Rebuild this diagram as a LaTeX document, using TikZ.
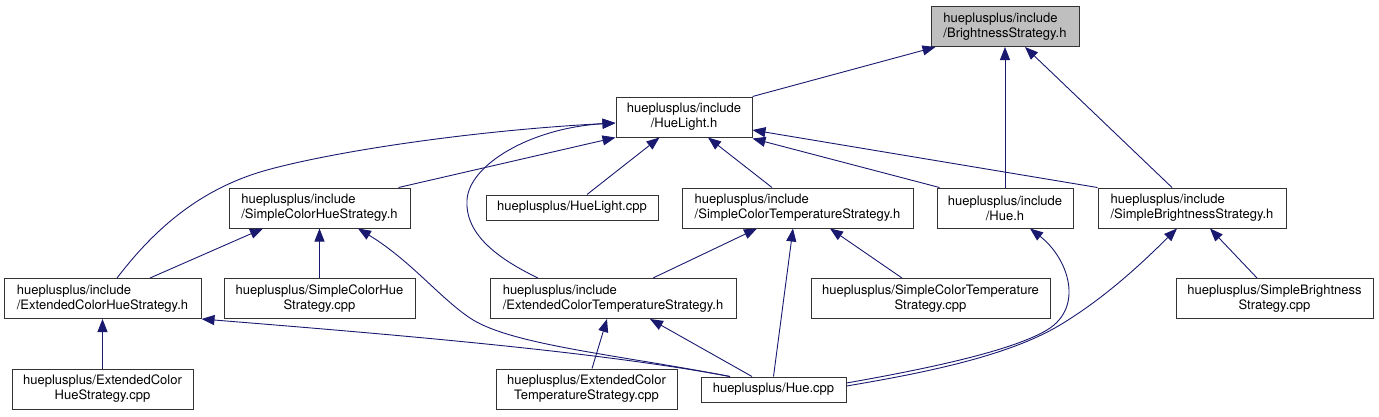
\documentclass[tikz,border=0pt]{standalone}
\usepackage{fontspec}
\setmainfont{TeX Gyre Heros}
\usetikzlibrary{arrows.meta}
\definecolor{edgec}{HTML}{191970}
\definecolor{rootfill}{HTML}{BFBFBF}
\begin{document}
\begin{tikzpicture}[x=1pt,y=-1pt,
  box/.style={draw=black!80, line width=1pt, fill=white, inner sep=0pt,
    minimum height=40pt, font=\fontsize{13}{15}\selectfont},
  onel/.style={minimum height=25pt},
  edge/.style={draw=edgec, line width=0.9pt, -{Triangle[length=13pt,width=10pt]}},
]
\useasboundingbox (0,0) rectangle (1379,416);
% nodes
\node[box, align=left, minimum width=148pt, fill=rootfill] (BS) at (1005,26.5) {hueplusplus/include\\/BrightnessStrategy.h};
\node[box, align=center, minimum width=136pt] (HL) at (684,117) {hueplusplus/include\\/HueLight.h};
\node[box, align=left, minimum width=181pt] (SCHS) at (319.5,208) {hueplusplus/include\\/SimpleColorHueStrategy.h};
\node[box, onel, minimum width=172pt] (HLcpp) at (572,207.5) {hueplusplus/HueLight.cpp};
\node[box, align=left, minimum width=231pt] (SCTS) at (797.5,208) {hueplusplus/include\\/SimpleColorTemperatureStrategy.h};
\node[box, align=center, minimum width=136pt] (Hueh) at (1005,208) {hueplusplus/include\\/Hue.h};
\node[box, align=left, minimum width=188pt] (SBS) at (1192,208) {hueplusplus/include\\/SimpleBrightnessStrategy.h};
\node[box, align=left, minimum width=197pt] (ECHS) at (102.5,298.5) {hueplusplus/include\\/ExtendedColorHueStrategy.h};
\node[box, align=center, minimum width=191pt] (SCHScpp) at (319.5,298.5) {hueplusplus/SimpleColorHue\\Strategy.cpp};
\node[box, align=left, minimum width=246pt] (ECTS) at (613,298.5) {hueplusplus/include\\/ExtendedColorTemperatureStrategy.h};
\node[box, align=center, minimum width=239pt] (SCTScpp) at (930.5,298.5) {hueplusplus/SimpleColorTemperature\\Strategy.cpp};
\node[box, align=center, minimum width=197pt] (SBScpp) at (1274.5,298.5) {hueplusplus/SimpleBrightness\\Strategy.cpp};
\node[box, align=center, minimum width=181pt] (ECHScpp) at (102.5,389) {hueplusplus/ExtendedColor\\HueStrategy.cpp};
\node[box, align=center, minimum width=181pt] (ECTScpp) at (586.5,389) {hueplusplus/ExtendedColor\\TemperatureStrategy.cpp};
\node[box, onel, minimum width=145pt] (Huecpp) at (773.5,389.5) {hueplusplus/Hue.cpp};
% edges to BrightnessStrategy.h
\draw[edge] (HL.north east) -- ([xshift=5pt]BS.south west);
\draw[edge] (Hueh.north) -- (BS.south);
\draw[edge] ([xshift=-20pt]SBS.north) -- ([xshift=20pt]BS.south);
% edges to HueLight.h
\draw[edge] ([xshift=-12pt]SCHS.north east) -- (HL.south west);
\draw[edge] ([xshift=14.5pt]ECHS.north) .. controls (150,235) and (195,190) .. (267,170)
  .. controls (340,150) and (480,130) .. ([yshift=-6pt]HL.west);
\draw[edge] ([xshift=-75pt]ECTS.north) .. controls (490,255) and (465,230) .. (467,200)
  .. controls (469,165) and (530,128) .. ([yshift=-6pt]HL.west);
\draw[edge] ([xshift=15pt]HLcpp.north) -- ([xshift=44pt]HL.south west);
\draw[edge] ([xshift=-25.5pt]SCTS.north) -- ([xshift=24pt]HL.south);
\draw[edge] ([xshift=3pt]Hueh.north west) -- ([yshift=-1pt]HL.south east);
\draw[edge] (SBS.north west) -- ([yshift=-13pt]HL.east);
% edges to SimpleColorHueStrategy.h
\draw[edge] ([xshift=47.5pt]ECHS.north) -- ([xshift=-56.5pt]SCHS.south);
\draw[edge] (SCHScpp.north) -- (SCHS.south);
\draw[edge] ([xshift=-43.5pt]Huecpp.north) .. controls (620,355) and (510,345) .. (470,318)
  .. controls (440,298) and (410,260) .. ([xshift=38.5pt]SCHS.south);
% edges to ExtendedColorHueStrategy.h
\draw[edge] (ECHScpp.north) -- (ECHS.south);
\draw[edge] ([xshift=-43.5pt]Huecpp.north) .. controls (600,352) and (400,335) .. (ECHS.south east);
% edges to ExtendedColorTemperatureStrategy.h
\draw[edge] ([xshift=5.5pt]ECTScpp.north) -- ([xshift=-6pt]ECTS.south);
\draw[edge] ([xshift=-21.5pt]Huecpp.north) -- ([xshift=37pt]ECTS.south);
% edges to SimpleColorTemperatureStrategy.h
\draw[edge] ([xshift=40pt]ECTS.north) -- ([xshift=-40.5pt]SCTS.south);
\draw[edge] (Huecpp.north) -- ([xshift=-4.5pt]SCTS.south);
\draw[edge] ([xshift=-28.5pt]SCTScpp.north) -- ([xshift=32.5pt]SCTS.south);
% edges to Hue.h and SimpleBrightnessStrategy.h
\draw[edge] ([yshift=6.5pt]Huecpp.east) .. controls (920,370) and (1010,352) .. (1047,330)
  .. controls (1085,307) and (1068,258) .. ([xshift=25pt]Hueh.south);
\draw[edge] ([yshift=3.5pt]Huecpp.east) .. controls (930,372) and (1010,355) .. (1060,325)
  .. controls (1110,295) and (1150,255) .. ([xshift=-15pt]SBS.south);
\draw[edge] ([xshift=-17.5pt]SBScpp.north) -- ([xshift=18pt]SBS.south);
\end{tikzpicture}
\end{document}
